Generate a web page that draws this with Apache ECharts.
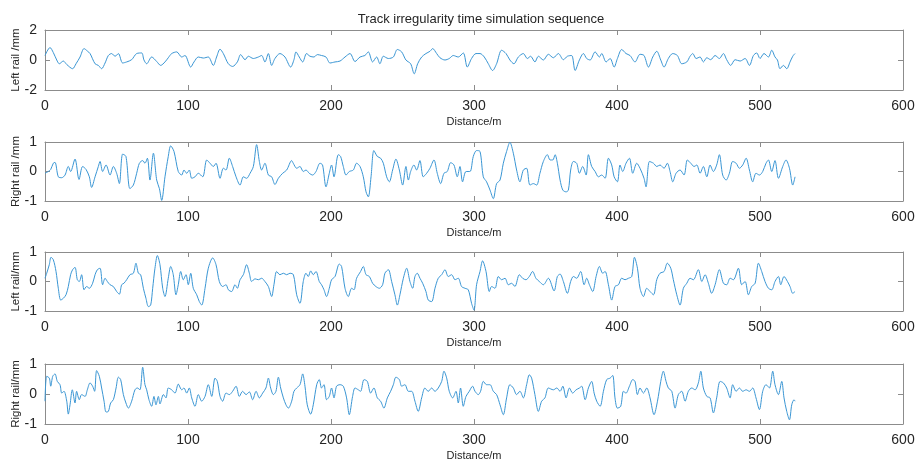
<!DOCTYPE html>
<html>
<head>
<meta charset="utf-8">
<script src="https://cdn.jsdelivr.net/npm/echarts@6/dist/echarts.min.js"></script>
<style>
html,body{margin:0;padding:0;background:#fff}
#chart{width:919px;height:463px}
</style>
</head>
<body>
<div id="chart"></div>
<script>
// [distance m, irregularity mm], top to bottom
const leftRailA = [[0,0.3],[3.5,0.83],[5.8,0.5],[8.2,0],[10.0,-0.25],[12.8,-0.07],[15.2,-0.3],[19.3,-0.58],[21.7,-0.25],[24.5,0.2],[27.3,0.76],[29.6,0.6],[31.5,0.43],[35.0,-0.25],[37.3,-0.36],[39.6,-0.58],[42.0,-0.2],[44.3,0.3],[46.6,0.43],[49.0,0.25],[51.3,0.43],[54.3,-0.2],[57.1,-0.13],[60.6,0.02],[64.1,0.43],[67.6,0.47],[69.2,0],[71.1,-0.25],[74.6,0.2],[78.1,-0.1],[80.9,-0.36],[83.9,-0.13],[86.2,0.15],[88.6,0.43],[92.1,0.54],[95.6,0.2],[97.9,0.3],[101.9,-0.47],[104.2,-0.13],[107.2,0.2],[110.7,0.13],[114.2,0.2],[117.7,-0.36],[120.0,0.2],[122.4,0.72],[124.7,0.43],[128.2,-0.25],[131.2,-0.43],[134.5,-0.13],[136.8,0.36],[139.9,0.02],[142.2,0.25],[145.7,0.1],[149.2,0.2],[151.5,0.3],[153.8,-0.13],[156.2,0.43],[158.5,-0.36],[160.8,0.1],[164.3,0.43],[167.8,0.2],[171.8,-0.47],[174.1,0.02],
  [175.5,0.54],[177.8,0.2],[180.2,-0.13],[182.9,0.43],[185.3,0.25],[188.1,0.2],[190.4,0.36],[193.4,0.3],[196.5,0.2],[199.3,-0.2],[202.8,-0.13],[206.3,-0.07],[209.8,0.2],[213.3,0.43],[216.8,-0.1],[220.3,0.2],[223.7,0.3],[226.1,0.54],[229.1,-0.13],[231.9,0.2],[234.2,-0.25],[236.6,0.25],[240.1,0.1],[243.6,0.2],[246.4,0.7],[249.4,0.54],[252.4,0],[255.7,-0.25],[258.2,-0.92],[260.6,-0.25],[263.4,0.2],[266.4,0.43],[269.2,0.58],[271.1,0.76],[273.9,0.43],[276.2,0.15],[279.7,0],[282.7,0.1],[285.5,0.3],[289.0,0.2],[292.5,0.47],[295.3,-0.47],[298.3,0.1],[301.4,0.43],[304.2,0.43],[307.2,0.2],[310.0,-0.25],[313.0,-0.7],[315.8,-0.25],[319.3,0.65],[322.4,0.43],[325.1,0],[327.9,-0.25],[331.0,0.2],[334.5,0.43],[337.3,0.1],[339.6,0.25],[342.6,-0.13],[345.0,0.25],[348.5,0],[352.0,0.38],
  [355.5,0.15],[359.0,0.43],[362.5,0.02],[365.3,0.25],[368.3,0.3],[370.7,-0.7],[373.7,0],[376.5,0.43],[378.8,0.1],[381.2,0],[384.7,0.54],[387.7,0.2],[389.3,0.43],[392.4,-0.13],[395.2,0.1],[398.0,-0.47],[400.3,0.1],[403.3,0.7],[406.3,0.43],[409.1,0.3],[412.6,-0.13],[416.1,0.38],[418.9,0.3],[422.0,-0.47],[425.0,0.2],[427.8,0.58],[430.6,0],[432.9,-0.47],[435.9,0.1],[439.0,0.43],[442.2,0.3],[445.3,-0.25],[448.8,-0.13],[451.1,0.25],[453.0,0.43],[455.3,0.1],[458.1,0.2],[460.4,-0.13],[462.8,0.15],[465.5,0.02],[468.6,0.3],[471.6,0.1],[474.4,0.43],[476.7,0.02],[479.5,-0.36],[482.6,0.02],[486.1,-0.07],[489.6,0.1],[492.6,-0.36],[495.4,0.3],[497.7,0.47],[500.0,0.1],[502.8,0.43],[505.9,0.2],[508.2,0.65],[510.5,0.2],[512.2,0],[514.0,-0.58],[516.4,-0.36],[518.7,-0.58],[521.0,-0.13],[522.9,0.25],[524.5,0.43]];

const rightRailA = [[0,-0.06],[2.3,0],[4.0,0.07],[5.8,0.28],[7.0,0.31],[9.3,-0.18],[11.7,-0.21],[14.0,-0.12],[16.3,0.17],[17.9,0],[21.0,0.42],[23.8,-0.27],[26.3,0.17],[28.7,0.07],[31.0,-0.18],[32.6,-0.54],[35.0,-0.18],[37.3,0.17],[38.5,0.34],[40.3,0],[42.7,0.22],[45.5,-0.12],[47.8,0.17],[50.1,-0.06],[52.0,-0.41],[54.3,0.59],[56.6,0.51],[59.4,-0.58],[61.8,-0.46],[64.1,-0.06],[66.0,0.28],[68.3,0.37],[69.9,0.28],[71.6,0.45],[73.4,-0.29],[75.8,0.62],[78.1,-0.29],[80.0,-0.58],[81.6,-0.98],[83.9,-0.18],[86.2,0.51],[87.9,0.87],[90.2,0.68],[93.2,0],[95.6,-0.12],[97.2,0.05],[99.1,-0.06],[100.9,0.05],[102.6,-0.23],[104.9,-0.18],[107.2,-0.06],[110.3,-0.18],[113.1,0.39],[115.4,0.28],[117.7,0.17],[119.6,0.28],[122.4,-0.23],[124.7,0.11],[126.6,0.05],[128.9,0.45],[131.2,0.17],[133.6,-0.18],[136.4,-0.46],[138.7,-0.18],[141.0,-0.23],[143.4,-0.06],[145.7,0.17],[148.0,0.91],[149.9,0.34],[151.5,0.05],[153.8,0.28],[156.2,-0.12],[158.5,-0.18],[160.8,-0.44],[163.2,-0.23],[166.2,-0.06],[169.0,0.05],[172.5,0.37],
  [173.6,0.28],[176.0,0.11],[178.3,0.17],[180.6,0],[182.5,0.05],[184.8,-0.06],[187.2,-0.12],[189.5,0],[192.3,0.28],[194.1,0.22],[196.5,-0.52],[198.8,-0.06],[200.4,0.22],[202.1,-0.18],[205.1,0.57],[206.7,0.51],[208.6,0.17],[210.5,-0.12],[212.8,0],[215.6,0.05],[217.9,0.28],[220.3,0.17],[222.6,-0.18],[224.5,-0.69],[226.1,-0.86],[228.0,-0.18],[230.0,0.71],[232.4,0.51],[234.7,0.45],[236.6,0.28],[238.9,-0.18],[240.8,-0.35],[243.1,0.05],[245.4,0.42],[247.8,0.05],[250.1,-0.46],[252.4,0.17],[254.1,-0.29],[255.7,0],[258.0,0.22],[259.9,0.05],[262.2,0.37],[264.5,-0.18],[266.9,-0.06],[269.2,0.11],[272.0,0.39],[274.3,-0.06],[276.7,-0.41],[279.0,-0.06],[281.3,0],[283.7,0.3],[286.0,0.22],[288.3,-0.18],[290.2,0.17],[292.0,-0.35],[294.4,0],[297.2,0],[299.5,0.51],[301.8,0.71],[304.2,0.68],[306.5,-0.18],[308.8,-0.35],[311.2,-0.63],[313.5,-0.92],[315.8,-0.41],[318.2,-0.29],[320.5,0.28],[322.8,0.68],[325.1,0.99],[327.5,0.62],[329.8,0.05],[332.1,-0.35],[334.5,0.05],[336.8,0.11],[339.1,-0.46],[341.5,-0.41],[343.8,-0.46],[346.1,-0.06],[348.5,0.34],
  [351.3,0.57],[353.2,0.39],[355.1,0.39],[356.7,0.57],[358.3,0.28],[360.2,-0.29],[362.1,-0.63],[364.4,-0.69],[366.0,-0.63],[367.6,0.05],[369.5,0.34],[371.8,0.28],[373.7,-0.06],[376.0,0.17],[378.4,-0.12],[380.0,0.57],[382.3,0.17],[384.7,0],[387.0,-0.18],[389.3,-0.12],[391.7,-0.23],[394.0,0.45],[396.3,0.22],[398.0,-0.18],[400.3,-0.35],[402.1,0.22],[404.0,0],[406.3,0.28],[408.7,0.45],[411.0,-0.06],[413.8,0.28],[416.1,0.11],[418.9,-0.23],[420.3,-0.52],[422.7,0.34],[425.5,0.28],[427.8,0.17],[430.1,0.22],[432.9,0.11],[435.2,0.28],[437.1,0],[439.0,-0.35],[441.3,-0.06],[444.1,0.05],[446.9,-0.12],[449.2,0.39],[451.6,0.28],[453.9,0.17],[455.8,0.22],[458.1,-0.06],[460.4,0.17],[462.8,-0.18],[465.1,0.22],[467.4,0],[469.7,0.22],[471.6,0.57],[473.9,-0.12],[476.3,-0.29],[478.6,-0.06],[480.9,0.34],[483.3,0.28],[485.6,0.11],[487.9,0.22],[490.3,0.45],[492.6,0.05],[494.9,-0.35],[497.2,-0.06],[499.6,-0.12],[501.9,0],[504.2,0.28],[505.9,0.39],[508.2,0],[510.5,0.37],[512.9,-0.23],[515.9,0.17],[518.2,0.39],[520.6,0.11],[522.9,-0.46],[524.5,-0.18]];

const leftRailB = [[0,0.11],[1.2,0.28],[3.0,0.57],[4.2,0.82],[5.8,0.74],[7.7,0.34],[9.3,-0.23],[11.0,-0.63],[12.8,-0.57],[14.7,-0.45],[16.3,-0.17],[17.9,0.23],[19.3,0.4],[21.0,0.48],[22.6,0.06],[24.0,0],[25.6,0.23],[27.3,-0.28],[29.1,-0.17],[31.0,-0.23],[33.3,-0.06],[35.0,0.23],[36.6,0.4],[38.5,0.45],[40.3,-0.11],[42.0,0.11],[43.6,0],[45.5,-0.11],[47.8,-0.17],[50.1,-0.34],[52.0,-0.43],[53.6,-0.11],[55.2,-0.06],[57.1,0.06],[59.4,0.23],[61.8,0.28],[63.6,0.62],[65.3,0.28],[66.9,0.23],[68.8,-0.23],[70.6,-0.57],[72.3,-0.85],[73.9,-0.8],[75.3,-0.23],[76.9,0.45],[78.6,0.88],[80.4,0.57],[82.3,-0.23],[83.9,-0.51],[86.2,0.11],[87.9,0.51],[89.7,0.23],[91.6,-0.45],[93.2,-0.11],[94.9,0.34],[96.7,0.06],[98.6,0.23],[100.2,-0.11],[101.9,0.28],[103.7,-0.23],[106.1,-0.45],[107.9,-0.68],[109.6,-0.8],[111.9,-0.23],[114.2,0.45],[117.3,0.8],[119.6,0.57],[121.9,0],[124.2,-0.17],[126.6,-0.11],[128.2,-0.28],[130.5,-0.34],[132.9,-0.11],[134.5,-0.23],[136.4,0.06],[138.7,0.23],[141.0,0.57],[142.9,0.28],[144.5,0],[146.9,0.09],[149.2,0.06],[151.5,0.11],[153.8,0],[156.2,-0.17],[158.5,-0.51],[160.1,-0.11],[162.0,0.34],[164.3,0.23],[166.7,0.28],[169.0,0.23],[171.3,0.28],[173.7,0.23],[176.0,-0.45],[178.3,-0.74],
  [180.6,0],[182.5,0.28],[184.1,0.17],[185.8,0.36],[187.6,0.23],[189.5,0.34],[191.8,0],[193.4,-0.11],[195.1,-0.28],[196.9,-0.51],[198.8,-0.23],[200.4,0.06],[202.8,0.17],[205.8,0.59],[207.4,0.51],[209.8,-0.23],[212.1,-0.51],[214.4,-0.23],[216.1,-0.28],[217.9,0.11],[220.7,0.34],[222.6,0.51],[224.5,0.23],[226.8,0.17],[229.1,-0.06],[231.4,-0.17],[233.8,-0.23],[236.1,-0.11],[237.7,0.28],[240.1,0.4],[242.4,0],[244.7,-0.45],[246.4,-0.8],[248.2,-0.45],[250.6,0.11],[252.9,0.45],[255.2,0],[257.1,-0.23],[258.7,0.17],[260.3,0.28],[262.2,0.11],[264.1,-0.06],[266.4,-0.34],[268.0,-0.63],[270.4,-0.68],[272.7,-0.23],[275.0,0.11],[277.4,0.23],[279.7,0.4],[282.0,0.17],[284.4,0.23],[286.7,0.06],[289.0,0.11],[291.3,-0.17],[293.7,-0.23],[296.0,-0.28],[298.3,-0.74],[300.0,-0.97],[301.8,-0.11],[304.2,0.34],[306.0,0.7],[308.4,0.34],[310.7,-0.34],[312.3,-0.17],[314.7,-0.23],[317.0,0.17],[319.3,0.06],[321.7,0.11],[324.0,-0.11],[326.3,-0.06],[328.6,-0.17],[331.7,0.23],[334.0,0.11],[336.3,0.06],[338.7,0.17],[341.0,0.34],[343.3,0.11],[345.7,0],[348.5,-0.11],[352.0,0.11],
  [356.0,-0.32],[358.3,0.17],[360.2,0.25],[362.5,0],[365.3,-0.4],[367.6,0],[369.5,0.17],[371.8,0.11],[374.6,0.34],[377.0,-0.11],[378.8,0.11],[380.7,-0.11],[383.0,-0.34],[385.4,0.17],[387.7,0.51],[390.0,0.28],[391.7,0.34],[394.0,-0.11],[396.3,-0.63],[398.6,-0.17],[401.0,-0.11],[403.3,0.11],[405.6,0.06],[408.0,0.11],[410.3,0.17],[412.2,0.82],[414.3,0.45],[416.1,-0.23],[418.5,-0.51],[420.8,-0.23],[423.1,-0.34],[425.5,-0.45],[427.8,0.06],[430.1,0.28],[432.9,0.34],[435.2,0.62],[437.6,0.45],[439.4,0.06],[441.8,-0.45],[444.1,-0.8],[446.4,-0.23],[448.8,-0.06],[451.1,0.11],[453.4,0.06],[456.9,0.4],[459.3,0],[461.6,0.23],[463.9,-0.06],[466.2,-0.4],[468.6,-0.11],[471.6,0.4],[474.4,-0.06],[476.7,-0.11],[479.1,0.11],[481.4,0.06],[484.9,0.45],[487.2,-0.11],[489.6,0],[491.9,-0.45],[494.2,-0.17],[496.6,-0.06],[498.9,0.62],[501.2,0.34],[503.5,0],[505.9,-0.23],[508.2,-0.28],[510.5,0],[512.9,0.17],[514.5,-0.11],[516.8,0.17],[519.2,0],[521.0,-0.17],[522.9,-0.4],[524.5,-0.34]];

const rightRailB = [[0,-0.24],[1.2,0.59],[3.0,0.53],[4.0,0.26],[5.4,0.59],[7.0,0.67],[8.6,0.42],[10.5,0.31],[11.7,0.03],[13.3,0.09],[15.2,-0.24],[16.3,-0.67],[17.5,-0.36],[19.1,0.14],[21.0,-0.3],[22.1,0.09],[24.0,-0.19],[25.6,-0.02],[28.0,-0.08],[29.6,0.14],[31.5,0.37],[33.3,0.26],[34.7,0.09],[36.1,0.78],[38.0,0.59],[39.6,0.2],[41.3,-0.24],[42.7,-0.6],[44.3,-0.58],[45.9,-0.3],[47.8,-0.19],[49.7,0.2],[51.3,0.56],[52.9,0.48],[54.8,-0.02],[56.6,-0.3],[58.3,-0.47],[60.6,-0.24],[62.9,0.14],[64.6,0.2],[66.4,0.14],[68.3,0.89],[69.9,0.31],[71.1,0.14],[72.7,-0.19],[74.6,-0.41],[76.2,-0.08],[77.6,-0.36],[79.3,-0.08],[80.4,-0.33],[82.8,-0.02],[84.6,-0.13],[86.2,0.2],[88.6,0.14],[90.9,0.03],[93.2,0.33],[95.6,0.14],[97.2,0.2],[99.1,0.03],[100.9,0.2],[102.6,-0.13],[104.9,-0.41],[107.2,-0.02],[109.6,-0.24],[111.9,-0.08],[114.2,0.31],[116.6,-0.08],[118.9,0.53],[120.5,0.42],[122.4,-0.08],[124.2,-0.24],[126.6,0.03],[128.9,-0.02],[131.2,0.09],[133.6,0.26],[135.9,-0.08],[138.2,0.09],[140.6,-0.02],[142.9,0.07],[145.2,-0.19],[147.6,0.09],[149.9,-0.13],[152.2,0.03],[154.5,0.2],[156.2,0.53],[157.8,0.2],[159.7,-0.02],[161.5,0.09],[163.2,0.56],[164.8,0.2],[166.7,-0.13],[168.5,-0.36],[170.2,-0.47],[172.5,-0.24],[174.1,0.09],[176.0,0.2],[178.3,0.31],
  [180.2,0.67],[181.8,0.26],[183.4,-0.36],[185.8,-0.67],[187.6,-0.36],[190.0,0.31],[191.8,0.48],[193.4,0.2],[195.1,0.31],[196.9,-0.19],[198.8,-0.08],[200.4,0.2],[202.1,-0.13],[203.9,0.26],[206.3,0.31],[208.6,0.26],[210.9,-0.13],[212.8,-0.69],[215.1,-0.08],[216.8,0.2],[219.1,0.14],[220.7,0.09],[223.1,0.48],[225.4,0.42],[227.7,0.03],[230.0,0.2],[232.4,-0.13],[234.7,-0.24],[237.0,-0.47],[239.4,-0.13],[241.7,0.09],[243.6,0.31],[245.4,0.56],[247.8,0.48],[249.4,0.26],[251.7,0.31],[254.1,0.09],[256.4,0.09],[258.7,-0.24],[261.0,-0.58],[263.4,-0.13],[265.7,0.2],[268.0,0.09],[270.4,0.2],[272.7,0.09],[275.0,0.2],[277.4,0.42],[279.0,0.76],[280.9,0.53],[282.7,0.09],[285.1,-0.13],[287.4,0.09],[289.0,-0.3],[290.6,0.2],[292.5,-0.41],[294.4,-0.08],[296.7,0.09],[299.0,0.26],[300.7,0.09],[303.0,-0.02],[304.6,0.09],[306.5,0.42],[308.8,0.31],[311.2,0.31],[313.5,0.09],[315.8,-0.02],[318.2,-0.36],[320.5,-0.69],[322.8,-0.13],[325.1,0.31],[327.5,0.2],[329.8,-0.02],[332.1,0.09],[334.5,-0.13],[336.8,0.31],[338.7,0.64],[340.3,0.53],[342.6,-0.02],[345.0,-0.58],[347.3,-0.24],[349.6,-0.13],[352.0,0.2],
  [355.5,0.14],[357.9,0.2],[360.2,0.09],[362.1,0.26],[364.4,-0.13],[366.7,0.2],[369.0,0.03],[371.4,0.14],[373.7,0.2],[375.3,0.26],[377.7,-0.19],[380.0,0.2],[382.3,0.42],[384.0,0.03],[385.8,-0.24],[388.2,-0.41],[390.5,0.09],[392.8,0.48],[395.2,0.53],[397.0,0.62],[398.6,-0.13],[400.3,-0.47],[402.6,-0.41],[404.5,0.09],[406.3,0.03],[408.7,0.26],[411.0,0.48],[412.6,0.42],[414.3,-0.02],[416.1,0.2],[418.5,0.03],[420.8,0.2],[423.1,-0.13],[425.9,-0.69],[428.3,-0.24],[430.6,0.42],[432.4,0.76],[434.3,0.42],[435.9,0.2],[438.3,0.09],[440.6,-0.47],[442.9,-0.02],[445.3,0.09],[447.6,-0.24],[449.9,0.09],[452.3,0.2],[454.6,0.14],[456.9,0.37],[458.6,0.76],[460.4,0.2],[462.8,-0.08],[465.1,-0.13],[467.4,-0.63],[469.7,-0.13],[472.1,0.42],[474.4,0.37],[476.7,0.2],[479.1,-0.13],[480.9,0.31],[483.3,0.09],[485.6,0.2],[487.9,0.09],[490.3,0.14],[492.6,0.09],[494.9,0.2],[497.2,-0.13],[499.6,-0.52],[501.9,0.09],[504.2,0.31],[506.6,0.2],[508.9,0.76],[510.5,0.31],[512.9,-0.02],[515.2,0.42],[516.8,-0.13],[518.7,-0.58],[520.6,-0.86],[522.2,-0.36],[523.8,-0.19],[524.5,-0.24]];

const panels = [leftRailA, rightRailA, leftRailB, rightRailB];
const yNames = ['Left rail /mm', 'Right rail /mm', 'Left rail/mm', 'Right rail/mm'];
const yLimits = [2, 1, 1, 1];      // symmetric y range of each subplot
const xName = 'Distance/m';
const titleText = 'Track irregularity time simulation sequence';

// layout
const tops = [30, 142, 252, 364];
const heights = [60, 59, 59, 60];
const boxColor = '#8c8c8c';
const textColor = '#262626';
const lineColor = '#3a96d4';
const font = 'Liberation Sans, Arial, Helvetica, sans-serif';

const grid = [], xAxis = [], yAxis = [], series = [];

panels.forEach((data, i) => {
    // outerBoundsMode none: keep the plot box where it is, labels may hang outside
    grid.push({left: 45, right: 16, top: tops[i], height: heights[i], outerBoundsMode: 'none'});

    const axisLine = {show: true, onZero: false, lineStyle: {color: boxColor, width: 1}};
    const axisTick = {show: true, inside: true, length: 5, lineStyle: {color: boxColor}};
    const xBase = {type: 'value', gridIndex: i, min: 0, max: 600, interval: 100,
        axisLine, axisTick, splitLine: {show: false}};
    xAxis.push({...xBase, position: 'bottom',
        name: xName, nameLocation: 'middle', nameGap: 26, nameMoveOverlap: false,
        nameTextStyle: {fontSize: 11, color: textColor, fontFamily: font},
        axisLabel: {margin: 9, fontSize: 14, color: textColor, fontFamily: font}});
    xAxis.push({...xBase, position: 'top', axisLabel: {show: false}});

    const lim = yLimits[i];
    const yBase = {type: 'value', gridIndex: i, min: -lim, max: lim, interval: lim,
        axisLine, axisTick, splitLine: {show: false}};
    yAxis.push({...yBase, position: 'left',
        name: yNames[i], nameLocation: 'middle', nameGap: 23, nameMoveOverlap: false,
        nameTextStyle: {fontSize: 11.5, color: textColor, fontFamily: font},
        axisLabel: {margin: 8, fontSize: 14, color: textColor, fontFamily: font}});
    yAxis.push({...yBase, position: 'right', axisLabel: {show: false}});

    series.push({type: 'line', xAxisIndex: 2 * i, yAxisIndex: 2 * i, data,
        showSymbol: false, smooth: 0.3, silent: true,
        lineStyle: {color: lineColor, width: 1}});
});

const myChart = echarts.init(document.getElementById('chart'));
myChart.setOption({
    animation: false,
    backgroundColor: '#fff',
    title: {text: titleText, left: 476, top: 8, textAlign: 'center',
        textStyle: {fontSize: 13, fontWeight: 'normal', color: textColor, fontFamily: font}},
    grid, xAxis, yAxis, series
});
</script>
</body>
</html>
